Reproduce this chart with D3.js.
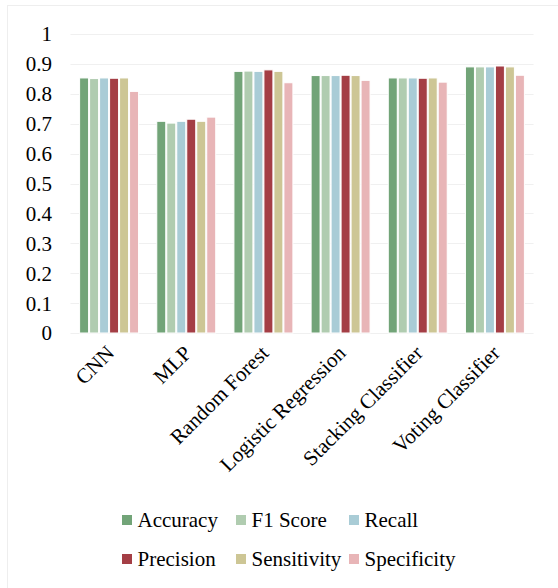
<!DOCTYPE html>
<html>
<head>
<meta charset="utf-8">
<script src="https://cdn.jsdelivr.net/npm/d3@7"></script>
<style>
  html, body { margin: 0; padding: 0; background: #fff; }
  svg { display: block; }
</style>
</head>
<body>
<svg id="chart" width="558" height="588"></svg>
<script>
const categories = ["CNN", "MLP", "Random Forest", "Logistic Regression", "Stacking Classifier", "Voting Classifier"];
const seriesNames = ["Accuracy", "F1 Score", "Recall", "Precision", "Sensitivity", "Specificity"];
const seriesColors = ["#72A478", "#B0CCB0", "#A9CCD6", "#A43E45", "#CDC695", "#E8B5B7"];
const accuracy    = [0.853, 0.708, 0.875, 0.861, 0.853, 0.890];
const f1Score     = [0.851, 0.702, 0.876, 0.861, 0.853, 0.890];
const recall      = [0.853, 0.708, 0.875, 0.861, 0.853, 0.890];
const precision   = [0.852, 0.715, 0.880, 0.862, 0.852, 0.893];
const sensitivity = [0.853, 0.708, 0.875, 0.861, 0.853, 0.890];
const specificity = [0.808, 0.722, 0.837, 0.845, 0.839, 0.862];
const yTicks = [0, 0.1, 0.2, 0.3, 0.4, 0.5, 0.6, 0.7, 0.8, 0.9, 1];

const seriesValues = [accuracy, f1Score, recall, precision, sensitivity, specificity];
const FONT = "Liberation Serif";
const FS = 21;

const svg = d3.select("#chart").attr("font-family", FONT);

// chart area border
svg.append("rect")
  .attr("x", 7.5).attr("y", 5.5)
  .attr("width", 560).attr("height", 600)
  .attr("fill", "none").attr("stroke", "#eeeeee").attr("stroke-width", 1);

const plotLeft = 70.5, plotRight = 533.5, plotTop = 34, plotBottom = 333;

const x0 = d3.scaleBand().domain(categories).range([plotLeft, plotRight]).paddingInner(0.223).paddingOuter(0.1115);
const x1 = d3.scaleBand().domain(seriesNames).range([0, x0.bandwidth()]).padding(0);
const y = d3.scaleLinear().domain([0, 1]).range([plotBottom, plotTop]);

// gridlines
svg.append("g").selectAll("line").data(yTicks).join("line")
  .attr("x1", plotLeft).attr("x2", plotRight)
  .attr("y1", d => Math.round(y(d)) + 0.5).attr("y2", d => Math.round(y(d)) + 0.5)
  .attr("stroke", "#f0f0f0").attr("stroke-width", 1.2);

// y axis
const yAxis = d3.axisLeft(y).tickValues(yTicks).tickSize(0).tickPadding(0)
  .tickFormat(d => d3.format("")(+d.toFixed(1)));
const gy = svg.append("g").attr("transform", "translate(52,0)").call(yAxis)
  .attr("font-family", FONT).attr("font-size", FS);
gy.select(".domain").remove();
gy.selectAll("text").attr("dy", "0.33em").attr("fill", "#000");

// bars
const groups = svg.append("g").selectAll("g").data(categories).join("g")
  .attr("transform", c => `translate(${x0(c)},0)`);
groups.selectAll("rect")
  .data((c, ci) => seriesNames.map((s, si) => ({ s, si, v: seriesValues[si][ci] })))
  .join("rect")
  .attr("x", d => x1(d.s) + 0.5)
  .attr("y", d => y(d.v))
  .attr("width", x1.bandwidth() - 1)
  .attr("height", d => y(0) - y(d.v))
  .attr("fill", d => seriesColors[d.si])
  .attr("stroke", "#ffffff").attr("stroke-width", 1);

// x axis labels
svg.append("g").attr("font-family", FONT).attr("font-size", FS)
  .selectAll("text").data(categories).join("text")
  .attr("transform", c => `translate(${x0(c) + x0.bandwidth() / 2 - 4},344) rotate(-45)`)
  .attr("text-anchor", "end")
  .attr("dy", "0.7em")
  .text(c => c);

// legend
const legendCols = [122, 236, 349];
const legendRows = [520, 559];
const legend = svg.append("g").attr("font-family", FONT).attr("font-size", FS)
  .selectAll("g").data(seriesNames).join("g")
  .attr("transform", (d, i) => `translate(${legendCols[i % 3]},${legendRows[Math.floor(i / 3)]})`);
legend.append("rect").attr("x", 0).attr("y", -5).attr("width", 10).attr("height", 10)
  .attr("fill", (d, i) => seriesColors[i]);
legend.append("text").attr("x", 15.5).attr("y", 0).attr("dy", "0.35em")
  .text(d => d);
</script>
</body>
</html>
